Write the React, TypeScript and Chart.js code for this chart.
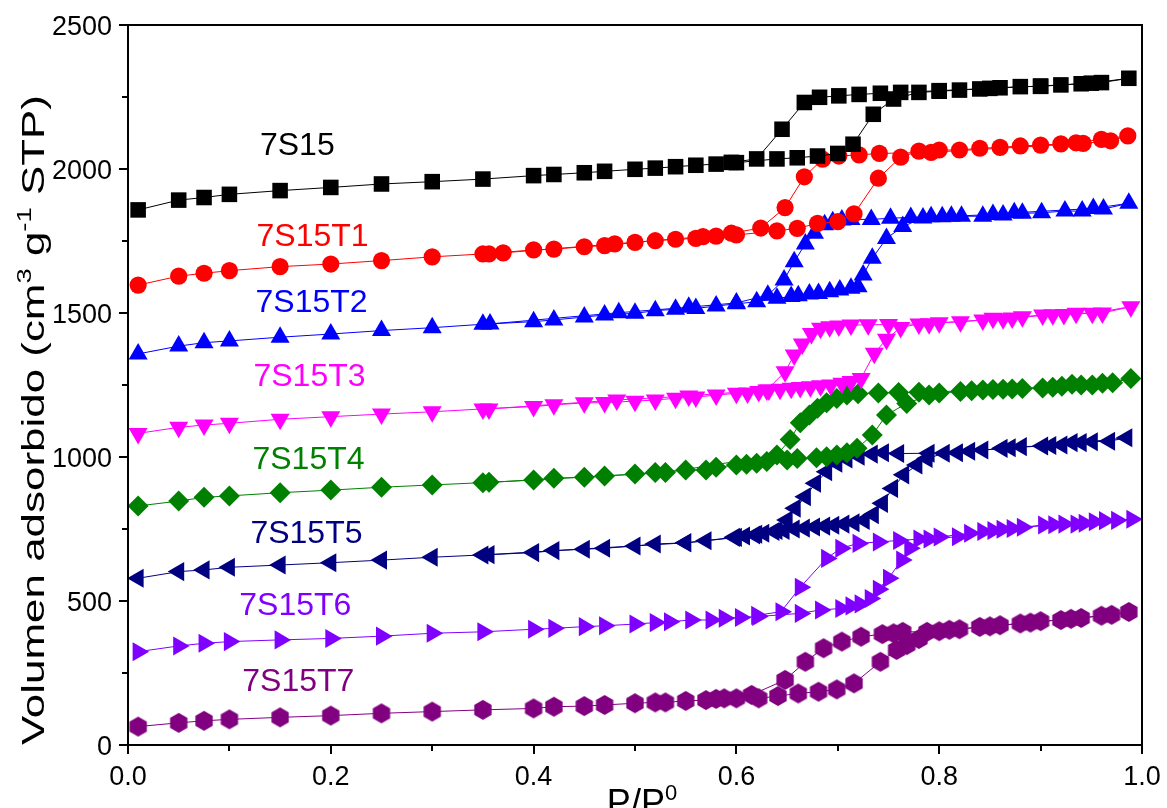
import React, { useEffect, useRef } from "react";
import { Chart, registerables } from "chart.js";

Chart.register(...registerables);

type Pt = [number, number];

const FONT = '"Liberation Sans", Arial, Helvetica, sans-serif';

// ---------- data (P/P0, volume adsorbed) ----------
const ads7S15: Pt[] = [[0.01,1858],[0.05,1892],[0.075,1901],[0.1,1912],[0.15,1925],[0.2,1936],[0.25,1948],[0.3,1956],[0.35,1965],[0.4,1977],[0.42,1981],[0.45,1987],[0.47,1992],[0.5,1999],[0.52,2003],[0.54,2008],[0.56,2013],[0.58,2017],[0.6,2022],[0.64,2035],[0.66,2039],[0.68,2045],[0.7,2054],[0.715,2086],[0.735,2190],[0.755,2243],[0.78,2266],[0.8,2270],[0.82,2274],[0.84,2278],[0.86,2282],[0.88,2286],[0.9,2287],[0.92,2292],[0.94,2296],[0.96,2300],[0.987,2315]];
const des7S15: Pt[] = [[0.95,2298],[0.9,2288],[0.85,2280],[0.8,2272],[0.762,2266],[0.742,2263],[0.721,2259],[0.701,2254],[0.682,2249],[0.667,2231],[0.645,2138],[0.62,2035],[0.595,2023]];

const ads7S15T1: Pt[] = [[0.01,1597],[0.05,1628],[0.075,1638],[0.1,1647],[0.15,1661],[0.2,1670],[0.25,1682],[0.3,1695],[0.35,1705],[0.4,1719],[0.42,1722],[0.45,1730],[0.47,1734],[0.5,1745],[0.52,1751],[0.54,1756],[0.56,1759],[0.58,1767],[0.6,1771],[0.64,1785],[0.66,1794],[0.68,1811],[0.7,1817],[0.716,1844],[0.74,1968],[0.762,2041],[0.78,2062],[0.8,2066],[0.82,2066],[0.84,2072],[0.86,2075],[0.88,2080],[0.9,2083],[0.92,2087],[0.935,2091],[0.96,2103],[0.986,2115]];
const des7S15T1: Pt[] = [[0.969,2098],[0.942,2089],[0.792,2058],[0.741,2054],[0.721,2049],[0.701,2045],[0.685,2034],[0.667,1973],[0.648,1866],[0.624,1795],[0.595,1777],[0.567,1765],[0.48,1740],[0.37,1709],[0.356,1705]];

const ads7S15T2: Pt[] = [[0.01,1358],[0.05,1385],[0.075,1397],[0.1,1403],[0.15,1416],[0.2,1427],[0.25,1439],[0.3,1449],[0.35,1461],[0.4,1470],[0.42,1476],[0.45,1486],[0.47,1493],[0.5,1499],[0.52,1508],[0.54,1513],[0.56,1516],[0.58,1524],[0.6,1532],[0.62,1539],[0.64,1551],[0.654,1557],[0.661,1560],[0.672,1566],[0.681,1568],[0.692,1574],[0.702,1580],[0.713,1586],[0.72,1591],[0.725,1632],[0.734,1690],[0.748,1759],[0.764,1800],[0.784,1830],[0.803,1834],[0.822,1836],[0.843,1836],[0.863,1840],[0.882,1846],[0.901,1848],[0.924,1854],[0.941,1854],[0.962,1861],[0.987,1881]];
const des7S15T2: Pt[] = [[0.952,1863],[0.874,1848],[0.853,1842],[0.812,1836],[0.792,1834],[0.772,1832],[0.752,1829],[0.733,1825],[0.713,1825],[0.704,1823],[0.695,1817],[0.687,1806],[0.677,1777],[0.668,1740],[0.657,1678],[0.647,1615],[0.631,1562],[0.6,1535],[0.553,1520],[0.484,1501],[0.357,1462]];

const ads7S15T3: Pt[] = [[0.01,1082],[0.05,1103],[0.075,1111],[0.1,1117],[0.15,1131],[0.2,1140],[0.25,1149],[0.3,1157],[0.35,1167],[0.4,1175],[0.42,1181],[0.45,1188],[0.47,1189],[0.5,1194],[0.52,1198],[0.54,1204],[0.56,1208],[0.58,1215],[0.6,1221],[0.611,1222],[0.622,1227],[0.632,1233],[0.643,1235],[0.654,1239],[0.663,1241],[0.673,1244],[0.683,1247],[0.693,1250],[0.704,1256],[0.713,1262],[0.723,1273],[0.736,1360],[0.748,1409],[0.762,1450],[0.78,1462],[0.8,1466],[0.821,1470],[0.843,1476],[0.853,1482],[0.872,1483],[0.882,1487],[0.902,1493],[0.923,1495],[0.935,1499],[0.961,1500],[0.989,1522]];
const des7S15T3: Pt[] = [[0.951,1499],[0.912,1494],[0.863,1480],[0.79,1463],[0.75,1460],[0.73,1459],[0.713,1458],[0.701,1455],[0.692,1452],[0.683,1447],[0.674,1429],[0.665,1392],[0.657,1354],[0.648,1296],[0.63,1233],[0.553,1212],[0.482,1198],[0.356,1167]];

const ads7S15T4: Pt[] = [[0.01,830],[0.05,847],[0.075,860],[0.1,865],[0.15,876],[0.2,885],[0.25,895],[0.3,903],[0.35,911],[0.4,920],[0.42,926],[0.45,930],[0.47,934],[0.5,941],[0.52,946],[0.55,955],[0.57,955],[0.58,964],[0.6,972],[0.61,975],[0.62,978],[0.63,984],[0.65,990],[0.66,995],[0.679,997],[0.689,1001],[0.699,1007],[0.709,1015],[0.719,1030],[0.734,1076],[0.748,1146],[0.768,1186],[0.79,1215],[0.8,1222],[0.821,1227],[0.843,1233],[0.863,1235],[0.882,1238],[0.902,1240],[0.921,1246],[0.931,1253],[0.951,1250],[0.961,1256],[0.989,1273]];
const des7S15T4: Pt[] = [[0.971,1258],[0.94,1250],[0.912,1242],[0.872,1236],[0.853,1234],[0.832,1230],[0.78,1225],[0.76,1224],[0.74,1222],[0.72,1220],[0.709,1215],[0.699,1203],[0.689,1188],[0.68,1169],[0.672,1146],[0.663,1119],[0.653,1061],[0.64,1007],[0.53,946],[0.356,912]];

const ads7S15T5: Pt[] = [[0.01,579],[0.05,602],[0.075,608],[0.1,617],[0.15,625],[0.2,633],[0.25,642],[0.3,652],[0.35,660],[0.4,668],[0.42,675],[0.45,680],[0.47,683],[0.5,691],[0.52,698],[0.55,702],[0.57,709],[0.6,721],[0.608,726],[0.618,729],[0.627,735],[0.637,741],[0.647,745],[0.657,750],[0.667,753],[0.677,757],[0.687,760],[0.696,763],[0.706,767],[0.716,772],[0.726,780],[0.735,800],[0.744,839],[0.754,891],[0.765,938],[0.778,972],[0.788,995],[0.805,1013],[0.818,1015],[0.843,1024],[0.862,1030],[0.881,1036],[0.902,1038],[0.921,1042],[0.931,1050],[0.951,1053],[0.968,1055],[0.985,1067]];
const des7S15T5: Pt[] = [[0.94,1050],[0.91,1040],[0.87,1032],[0.83,1020],[0.79,1013],[0.76,1012],[0.745,1015],[0.734,1010],[0.721,1003],[0.709,993],[0.699,978],[0.689,949],[0.678,909],[0.668,862],[0.658,822],[0.65,781],[0.64,745],[0.62,732],[0.598,721],[0.55,702],[0.356,661]];

const ads7S15T6: Pt[] = [[0.01,324],[0.05,344],[0.075,353],[0.1,359],[0.15,365],[0.2,370],[0.25,378],[0.3,388],[0.35,393],[0.4,402],[0.42,405],[0.45,411],[0.47,414],[0.5,420],[0.52,425],[0.534,428],[0.555,434],[0.575,434],[0.588,440],[0.604,443],[0.621,446],[0.663,457],[0.683,469],[0.703,474],[0.713,483],[0.722,490],[0.732,509],[0.74,541],[0.75,579],[0.763,642],[0.771,683],[0.79,715],[0.818,723],[0.843,741],[0.862,749],[0.882,756],[0.903,764],[0.923,767],[0.935,767],[0.953,775],[0.963,779],[0.99,784]];
const des7S15T6: Pt[] = [[0.975,780],[0.943,770],[0.913,765],[0.872,752],[0.853,745],[0.83,735],[0.8,722],[0.78,715],[0.76,710],[0.74,705],[0.72,700],[0.703,683],[0.689,648],[0.663,548],[0.644,463],[0.62,450]];

const ads7S15T7: Pt[] = [[0.01,64],[0.05,77],[0.075,84],[0.1,89],[0.15,96],[0.2,102],[0.25,110],[0.3,116],[0.35,122],[0.4,127],[0.42,133],[0.45,135],[0.47,139],[0.5,145],[0.52,148],[0.53,148],[0.55,153],[0.57,156],[0.588,162],[0.6,162],[0.622,162],[0.641,170],[0.661,179],[0.681,185],[0.699,193],[0.716,214],[0.742,289],[0.758,330],[0.768,347],[0.78,368],[0.8,395],[0.82,402],[0.84,410],[0.86,416],[0.88,422],[0.9,430],[0.92,434],[0.94,441],[0.96,449],[0.987,462]];
const des7S15T7: Pt[] = [[0.97,452],[0.93,438],[0.89,425],[0.85,412],[0.81,400],[0.788,393],[0.764,393],[0.755,388],[0.744,385],[0.723,376],[0.704,359],[0.686,336],[0.668,289],[0.648,226],[0.615,174],[0.58,160]];

const seriesNames = ["7S15", "7S15T1", "7S15T2", "7S15T3", "7S15T4", "7S15T5", "7S15T6", "7S15T7"];
const seriesColors = ["#000000", "#FF0000", "#0000FF", "#FF00FF", "#008000", "#000080", "#8000FF", "#800080"];
const seriesAds = [ads7S15, ads7S15T1, ads7S15T2, ads7S15T3, ads7S15T4, ads7S15T5, ads7S15T6, ads7S15T7];
const seriesDes = [des7S15, des7S15T1, des7S15T2, des7S15T3, des7S15T4, des7S15T5, des7S15T6, des7S15T7];
const seriesMarkers = ["rect", "circle", "triangle", "triangle", "rectRot", "triangle", "triangle", "hexagon"];
const seriesRotation = [0, 0, 0, 180, 0, 270, 90, 0];
const seriesRadius = [11, 8.6, 11, 11, 10.5, 11, 11, 10];

// label anchor positions (data coordinates: P/P0, volume)
const labelX = [0.167, 0.182, 0.181, 0.179, 0.178, 0.176, 0.165, 0.168];
const labelY = [2090, 1771, 1545, 1288, 997, 743, 490, 229];

const xMajorTicks = [0, 0.2, 0.4, 0.6, 0.8, 1.0];
const xMinorTicks = [0.1, 0.3, 0.5, 0.7, 0.9];
const yMajorTicks = [0, 500, 1000, 1500, 2000, 2500];
const yMinorTicks = [250, 750, 1250, 1750, 2250];

const xTitleParts = [{ t: "P/P", sup: false }, { t: "0", sup: true }];
const yTitleParts = [
  { t: "Volumen adsorbido (cm", sup: false },
  { t: "3", sup: true },
  { t: " g", sup: false },
  { t: "-1", sup: true },
  { t: " STP)", sup: false },
];

function makeHexagon(color: string, r: number): HTMLCanvasElement {
  const c = document.createElement("canvas");
  const w = Math.ceil(2 * r * 0.866) + 2;
  const h = Math.ceil(2 * r) + 2;
  c.width = w;
  c.height = h;
  const ctx = c.getContext("2d")!;
  ctx.fillStyle = color;
  ctx.beginPath();
  for (let i = 0; i < 6; i++) {
    const a = Math.PI / 2 + (i * Math.PI) / 3;
    const px = w / 2 + r * Math.cos(a);
    const py = h / 2 + r * Math.sin(a);
    if (i === 0) ctx.moveTo(px, py);
    else ctx.lineTo(px, py);
  }
  ctx.closePath();
  ctx.fill();
  return c;
}

type Part = { t: string; sup: boolean };

function measureRich(ctx: CanvasRenderingContext2D, parts: Part[], base: number, sup: number): number {
  let w = 0;
  for (const p of parts) {
    ctx.font = `${p.sup ? sup : base}px ${FONT}`;
    w += ctx.measureText(p.t).width;
  }
  return w;
}

function drawRich(ctx: CanvasRenderingContext2D, parts: Part[], x: number, y: number, base: number, sup: number, rise: number) {
  let cx = x;
  ctx.textAlign = "left";
  ctx.textBaseline = "alphabetic";
  for (const p of parts) {
    ctx.font = `${p.sup ? sup : base}px ${FONT}`;
    ctx.fillText(p.t, cx, p.sup ? y - rise : y);
    cx += ctx.measureText(p.t).width;
  }
}

const decorPlugin = {
  id: "decor",
  afterDraw(chart: any) {
    const ctx: CanvasRenderingContext2D = chart.ctx;
    const { left, right, top, bottom } = chart.chartArea;
    const xs = chart.scales.x;
    const ys = chart.scales.y;
    ctx.save();
    ctx.strokeStyle = "#000";
    ctx.lineWidth = 2;
    ctx.strokeRect(left, top, right - left, bottom - top);
    ctx.beginPath();
    for (const v of xMajorTicks) {
      const p = Math.round(xs.getPixelForValue(v));
      ctx.moveTo(p, bottom);
      ctx.lineTo(p, bottom + 9);
    }
    for (const v of xMinorTicks) {
      const p = Math.round(xs.getPixelForValue(v));
      ctx.moveTo(p, bottom);
      ctx.lineTo(p, bottom + 6);
    }
    for (const v of yMajorTicks) {
      const p = Math.round(ys.getPixelForValue(v));
      ctx.moveTo(left, p);
      ctx.lineTo(left - 9, p);
    }
    for (const v of yMinorTicks) {
      const p = Math.round(ys.getPixelForValue(v));
      ctx.moveTo(left, p);
      ctx.lineTo(left - 6, p);
    }
    ctx.stroke();

    // tick labels
    ctx.fillStyle = "#000";
    ctx.font = `27px ${FONT}`;
    ctx.textAlign = "center";
    ctx.textBaseline = "alphabetic";
    for (const v of xMajorTicks) {
      ctx.fillText(v.toFixed(1), xs.getPixelForValue(v), bottom + 40);
    }
    ctx.textAlign = "right";
    for (const v of yMajorTicks) {
      ctx.fillText(String(v), left - 16, ys.getPixelForValue(v) + 10);
    }

    // series labels
    ctx.font = `32px ${FONT}`;
    ctx.textAlign = "center";
    ctx.textBaseline = "alphabetic";
    for (let i = 0; i < seriesNames.length; i++) {
      ctx.fillStyle = seriesColors[i];
      ctx.fillText(seriesNames[i], xs.getPixelForValue(labelX[i]), ys.getPixelForValue(labelY[i]) + 11.5);
    }

    // x title
    ctx.fillStyle = "#000";
    const xw = measureRich(ctx, xTitleParts, 36, 22);
    drawRich(ctx, xTitleParts, (left + right) / 2 + 7 - xw / 2, 815, 36, 22, 15);

    // y title (rotated, stretched along its length)
    const yw = measureRich(ctx, yTitleParts, 32, 20);
    const target = 650;
    ctx.save();
    ctx.translate(44, (top + bottom) / 2 + 35);
    ctx.rotate(-Math.PI / 2);
    ctx.scale(target / yw, 1);
    drawRich(ctx, yTitleParts, -yw / 2, 0, 32, 20, 13);
    ctx.restore();

    ctx.restore();
  },
};

export default function App() {
  const ref = useRef<HTMLCanvasElement | null>(null);

  useEffect(() => {
    const canvas = ref.current;
    if (!canvas) return;
    const datasets = seriesNames.map((name, i) => {
      const pts = [...seriesAds[i], ...seriesDes[i]].map(([x, y]) => ({ x, y }));
      const style: any = seriesMarkers[i] === "hexagon" ? makeHexagon(seriesColors[i], seriesRadius[i]) : seriesMarkers[i];
      return {
        label: name,
        data: pts,
        borderColor: seriesColors[i],
        backgroundColor: seriesColors[i],
        borderWidth: 1,
        pointStyle: style,
        pointRotation: seriesRotation[i],
        pointRadius: seriesRadius[i],
        pointBorderWidth: 0,
        pointBackgroundColor: seriesColors[i],
        pointBorderColor: seriesColors[i],
        tension: 0,
        fill: false,
        clip: false as any,
      };
    });

    const chart = new Chart(canvas, {
      type: "line",
      data: { datasets },
      options: {
        animation: false,
        responsive: false,
        devicePixelRatio: 1,
        events: [],
        layout: { padding: { left: 0, top: 25, right: 25, bottom: 0 } },
        plugins: { legend: { display: false }, tooltip: { enabled: false }, title: { display: false } },
        scales: {
          x: {
            type: "linear",
            min: 0,
            max: 1,
            grid: { display: false, drawTicks: false },
            border: { display: false },
            ticks: { display: false, stepSize: 0.2 },
            afterFit: (s: any) => {
              s.height = 63;
            },
          },
          y: {
            type: "linear",
            min: 0,
            max: 2500,
            grid: { display: false, drawTicks: false },
            border: { display: false },
            ticks: { display: false, stepSize: 500 },
            afterFit: (s: any) => {
              s.width = 128;
            },
          },
        },
      },
      plugins: [decorPlugin],
    } as any);

    return () => chart.destroy();
  }, []);

  return (
    <div style={{ position: "absolute", left: 0, top: 0, width: 1167, height: 808, background: "#fff" }}>
      <canvas ref={ref} width={1167} height={808} style={{ display: "block", width: 1167, height: 808 }} />
    </div>
  );
}
